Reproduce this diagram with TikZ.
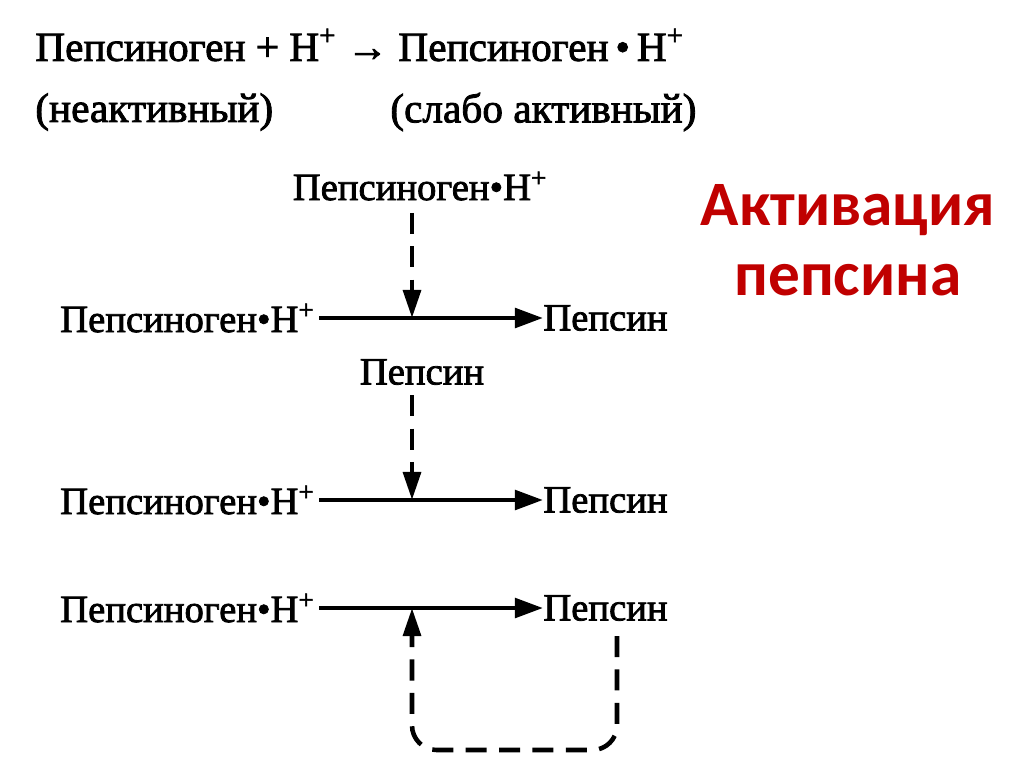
\documentclass[tikz,border=0pt]{standalone}
\usepackage{fontspec}
\setmainfont{Liberation Serif}[FakeBold=2]
\newfontfamily\titlefont{Carlito}
\usepackage{xcolor}
\usetikzlibrary{arrows.meta, positioning, calc}
\definecolor{titlered}{RGB}{192,0,0}

\begin{document}
\begin{tikzpicture}[x=0.02cm, y=-0.02cm,
        chem/.style={inner sep=0pt, font=\fontsize{22}{24}\selectfont},
        react/.style={line width=2.6pt, -{Triangle[length=16pt, width=11pt]}},
        catal/.style={line width=2.6pt, dash pattern=on 12pt off 7pt, -{Triangle[length=16pt, width=10pt]}}]
        \useasboundingbox (0,0) rectangle (1024,767);
            % top equation
            \node[chem, anchor=west, font=\fontsize{23.5}{26}\selectfont] (eq) at (35,45) {Пепсиноген + H\textsuperscript{+} \textbf{→} Пепсиноген\,•\,H\textsuperscript{+}};
            \node[chem, anchor=west, font=\fontsize{23.5}{26}\selectfont] (inact) at (35,112) {(неактивный)};
            \node[chem, anchor=west, font=\fontsize{23.5}{26}\selectfont] (weak) at (390,112) {(слабо активный)};
            \node[chem] (src) at (420,186) {Пепсиноген•H\textsuperscript{+}};
            \node[chem] (cat) at (422,372) {Пепсин};
        \foreach \i/\y in {1/318, 2/500, 3/608} {
            \node[chem, anchor=east] (pg\i) at (315,\y) {Пепсиноген•H\textsuperscript{+}};
            \node[chem, anchor=west] (p\i) at (543,\y) {Пепсин};
            \coordinate (j\i) at (412,\y);
            \draw[react] (pg\i.east) ++(4,0) -- (p\i.west);
        }
            % catalysis
            \draw[catal] (src.south -| j1) ++(0,12) -- (j1);
            \draw[catal] (cat.south -| j2) ++(0,10) -- (j2);
            \coordinate (lp) at (617,636);
            \coordinate (lb) at (412,750);
            \draw[catal, rounded corners=14pt] (lp) |- (lb) -- (j3);
            \node[font=\titlefont\bfseries\fontsize{36}{40}\selectfont, text=titlered, align=center] (title) at (848,240) {Активация\\пепсина};
\end{tikzpicture}
\end{document}
